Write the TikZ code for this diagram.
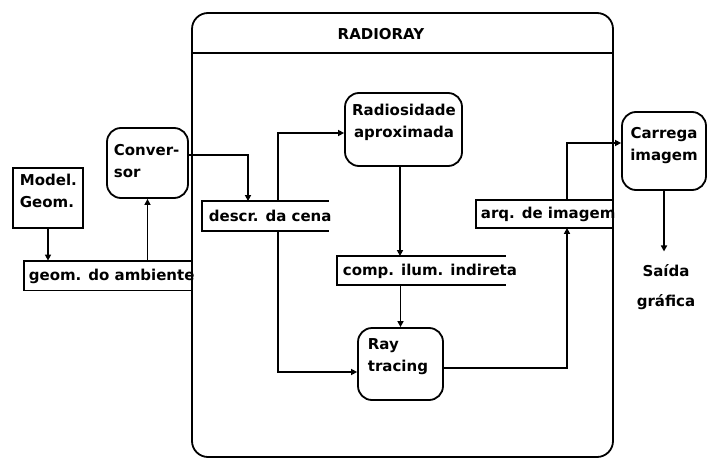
\documentclass[tikz,border=0pt]{standalone}
\usepackage{fontspec}
\setmainfont{DejaVu Sans}
\usetikzlibrary{arrows.meta}
\begin{document}
\begin{tikzpicture}[x=1pt,y=-1pt, line width=1.8pt,
  lbl/.style={font=\fontsize{15}{22}\selectfont\bfseries, inner sep=0pt},
  rbox/.style={draw, rounded corners=14pt, inner sep=0pt},
  sbox/.style={draw, inner sep=0pt},
  store/.style={inner sep=0pt},
  arr/.style={-{Triangle[length=6pt,width=6pt]}}]
\useasboundingbox (0,0) rectangle (708,457);
% frame
\node[draw, rounded corners=16pt, minimum width=421pt, minimum height=444pt, inner sep=0pt] (frame) at (402.5,235) {};
\node[lbl] (title) at (381,34) {RADIORAY};
\coordinate (hl) at (0,53);
\draw (frame.west |- hl) -- (frame.east |- hl);
% process boxes
\node[sbox, minimum width=70pt, minimum height=60pt] (model) at (48,198) {};
\node[lbl, anchor=west, align=left] (modelt) at (19,191) {Model.\\Geom.};
\node[rbox, minimum width=81pt, minimum height=70pt] (conv) at (147.5,163) {};
\node[lbl, anchor=west, align=left] (convt) at (113,161) {Conver-\\sor};
\node[rbox, minimum width=117pt, minimum height=73pt] (rad) at (403.5,129.5) {};
\node[lbl, align=center] (radt) at (404,122) {Radiosidade\\aproximada};
\node[rbox, minimum width=85pt, minimum height=72pt] (ray) at (400.5,364) {};
\node[lbl, anchor=west, align=left] (rayt) at (367,357) {Ray\\tracing};
\node[rbox, minimum width=84pt, minimum height=78pt] (carr) at (664,151) {};
\node[lbl, align=center] (carrt) at (664,146) {Carrega\\imagem};
\node[lbl, align=center] (saida) at (666,287) {Saída\\[8pt]gráfica};
% data stores
\node[store, minimum width=165pt, minimum height=28pt] (geo) at (107.5,275.5) {};
\node[lbl, anchor=west] (geot) at (28,276) {geom. do ambiente};
\node[store, minimum width=125pt, minimum height=28pt] (descr) at (265.5,216) {};
\node[lbl, anchor=west] (descrt) at (208,216) {descr. da cena};
\node[store, minimum width=167pt, minimum height=27pt] (comp) at (421.5,270.5) {};
\node[lbl, anchor=west] (compt) at (342,271) {comp. ilum. indireta};
\node[store, minimum width=136pt, minimum height=26pt] (arq) at (545,214) {};
\node[lbl, anchor=west] (arqt) at (480,214) {arq. de imagem};
\foreach \n in {geo,descr,comp,arq}
  \draw (\n.north east) -- (\n.north west) -- (\n.south west) -- (\n.south east);
% connectors
\draw[arr] (model.south) -- (model.south |- geo.north);
\draw[arr] (conv.south |- geo.north) -- (conv.south);
\draw[arr] ([yshift=8pt]conv.east) -| ([xshift=-17.5pt]descr.north);
\draw[arr] ([xshift=12.5pt]descr.north) |- ([yshift=-3.5pt]rad.west);
\draw[arr] ([xshift=12.5pt]descr.south) |- ([yshift=-8pt]ray.west);
\draw[arr] ([xshift=-3.5pt]rad.south) -- ([xshift=-3.5pt]rad.south |- comp.north);
\draw[arr] (ray.north |- comp.south) -- (ray.north);
\draw[arr] ([yshift=-4pt]ray.east) -| ([xshift=22pt]arq.south);
\draw[arr] ([xshift=22pt]arq.north) |- ([yshift=8pt]carr.west);
\draw[arr, shorten >=12pt] (carr.south) -- (carr.south |- saida.north);
\end{tikzpicture}
\end{document}
